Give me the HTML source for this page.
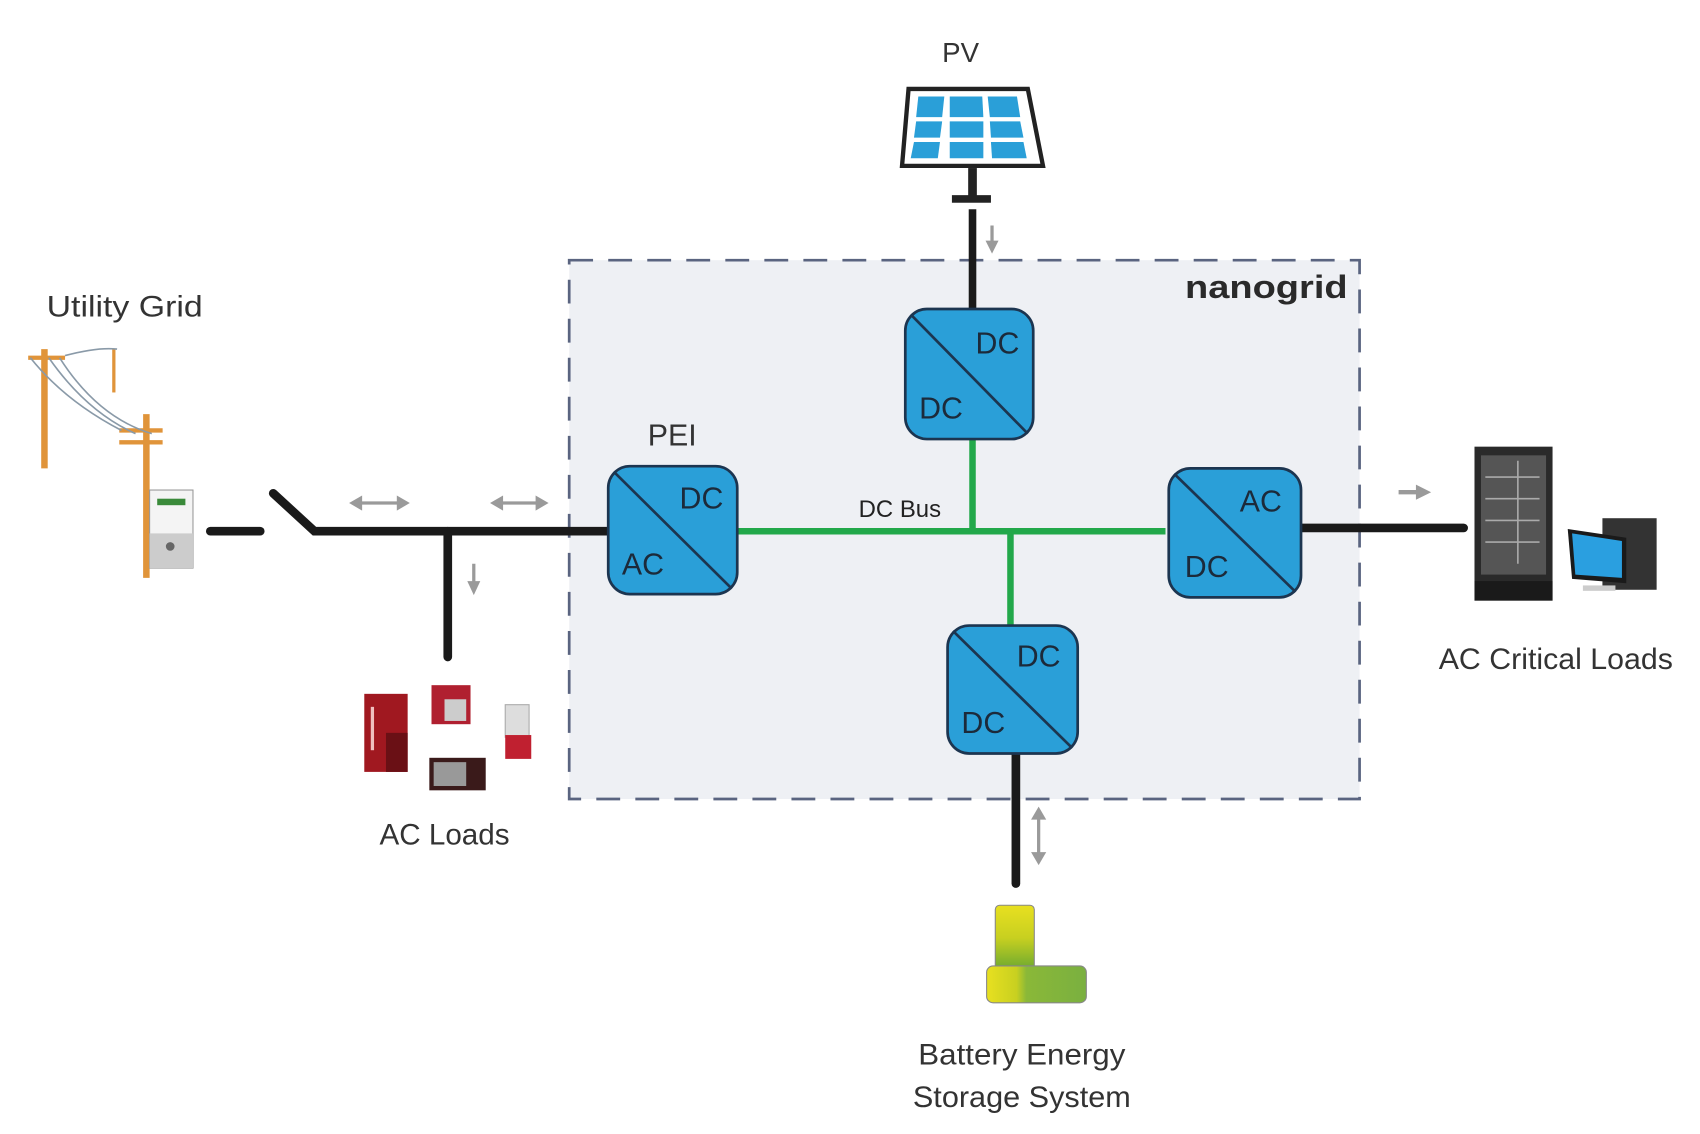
<!DOCTYPE html>
<html><head><meta charset="utf-8"><style>html,body{margin:0;padding:0;background:#fff}svg{display:block}</style></head>
<body>
<svg width="1700" height="1134" viewBox="0 0 1568 1046" preserveAspectRatio="none" xmlns="http://www.w3.org/2000/svg" font-family="'Liberation Sans',sans-serif">
<defs>
<linearGradient id="bat" x1="0" x2="0" y1="0" y2="1"><stop offset="0" stop-color="#e8e020"/><stop offset="0.5" stop-color="#c8d020"/><stop offset="1" stop-color="#6aa830"/></linearGradient>
<linearGradient id="bat2" x1="0" x2="1" y1="0" y2="0"><stop offset="0" stop-color="#e8e020"/><stop offset="0.3" stop-color="#c8d020"/><stop offset="0.4" stop-color="#8ab838"/><stop offset="1" stop-color="#7ab040"/></linearGradient>
</defs>
<rect width="1568" height="1046" fill="#fff"/>
<rect x="525" y="240" width="729" height="497" fill="#eef0f4" stroke="#5a6480" stroke-width="2.5" stroke-dasharray="22,14"/>
<text x="1093" y="275" font-size="30" font-weight="bold" fill="#2a2a2a" textLength="150" lengthAdjust="spacingAndGlyphs">nanogrid</text>
<text x="869" y="57" font-size="26" fill="#333" textLength="34" lengthAdjust="spacingAndGlyphs">PV</text>
<polygon points="838,82 948,82 962,153 832,153" fill="#fff" stroke="#222" stroke-width="4"/>
<g fill="#2a9fd8">
<polygon points="847,89 871,89 869,108 845,108"/><polygon points="876,89 906,89 907,108 876,108"/><polygon points="911,89 938,89 941,108 913,108"/>
<polygon points="845,112 869,112 867,127 843,127"/><polygon points="876,112 907,112 907,127 876,127"/><polygon points="913,112 941,112 944,127 914,127"/>
<polygon points="843,131 867,131 865,146 840,146"/><polygon points="876,131 907,131 907,146 876,146"/><polygon points="914,131 944,131 947,146 915,146"/>
</g>
<rect x="893" y="155" width="8" height="26" fill="#222"/>
<rect x="878" y="180" width="36" height="7" fill="#222"/>
<line x1="897" y1="193" x2="897" y2="290" stroke="#1a1a1a" stroke-width="7"/>
<g fill="#9a9a9a" stroke="#9a9a9a">
<line x1="915" y1="208" x2="915" y2="226" stroke-width="3"/><polygon points="909,222 921,222 915,234" stroke="none"/>
<line x1="330" y1="464" x2="370" y2="464" stroke-width="3"/><polygon points="322,464 334,457 334,471" stroke="none"/><polygon points="378,464 366,457 366,471" stroke="none"/>
<line x1="460" y1="464" x2="498" y2="464" stroke-width="3"/><polygon points="452,464 464,457 464,471" stroke="none"/><polygon points="506,464 494,457 494,471" stroke="none"/>
<line x1="437" y1="520" x2="437" y2="540" stroke-width="3"/><polygon points="431,536 443,536 437,549" stroke="none"/>
<line x1="1290" y1="454" x2="1310" y2="454" stroke-width="4"/><polygon points="1306,447 1320,454 1306,461" stroke="none"/>
<line x1="958" y1="752" x2="958" y2="790" stroke-width="3"/><polygon points="951,756 965,756 958,744" stroke="none"/><polygon points="951,786 965,786 958,798" stroke="none"/>
</g>
<g stroke="#1a1a1a" stroke-width="8" stroke-linecap="round" fill="none">
<line x1="194" y1="490" x2="240" y2="490"/>
<polyline points="252,455 290,490 561,490"/>
<line x1="413" y1="490" x2="413" y2="606"/>
<line x1="1200" y1="487" x2="1350" y2="487"/>
<line x1="937" y1="695" x2="937" y2="815"/>
</g>
<g stroke="#22a84a" stroke-width="6" fill="none">
<line x1="680" y1="490" x2="1075" y2="490"/>
<line x1="897" y1="405" x2="897" y2="490"/>
<line x1="932" y1="490" x2="932" y2="577"/>
</g>
<text x="792" y="477" font-size="22" fill="#222" textLength="76" lengthAdjust="spacingAndGlyphs">DC Bus</text>
<g stroke="#1c3550" stroke-width="2.5">
<rect x="835" y="285" width="118" height="120" rx="20" fill="#2a9fd8"/><line x1="840" y1="290" x2="948" y2="400"/>
<rect x="561" y="430" width="119" height="118" rx="20" fill="#2a9fd8"/><line x1="566" y1="435" x2="675" y2="543"/>
<rect x="1078" y="432" width="122" height="119" rx="20" fill="#2a9fd8"/><line x1="1083" y1="437" x2="1195" y2="546"/>
<rect x="874" y="577" width="120" height="118" rx="20" fill="#2a9fd8"/><line x1="879" y1="582" x2="989" y2="690"/>
</g>
<g font-size="28" fill="#1c2a3a" text-anchor="middle">
<text x="920" y="326">DC</text><text x="868" y="386">DC</text>
<text x="647" y="469">DC</text><text x="593" y="530">AC</text>
<text x="1163" y="472">AC</text><text x="1113" y="532">DC</text>
<text x="958" y="615">DC</text><text x="907" y="676">DC</text>
<text x="620" y="411" fill="#333">PEI</text>
</g>
<g font-size="27" fill="#333" lengthAdjust="spacingAndGlyphs">
<text x="43" y="292" textLength="144" lengthAdjust="spacingAndGlyphs">Utility Grid</text>
<text x="350" y="779" textLength="120" lengthAdjust="spacingAndGlyphs">AC Loads</text>
<text x="1327" y="617" textLength="216" lengthAdjust="spacingAndGlyphs">AC Critical Loads</text>
<text x="847" y="982" textLength="191" lengthAdjust="spacingAndGlyphs">Battery Energy</text>
<text x="842" y="1021" textLength="201" lengthAdjust="spacingAndGlyphs">Storage System</text>
</g>
<g stroke="#e0943a" stroke-width="6">
<line x1="41" y1="322" x2="41" y2="432"/><line x1="135" y1="382" x2="135" y2="533"/>
<line x1="105" y1="322" x2="105" y2="362" stroke-width="3"/>
</g>
<g stroke="#e0943a" stroke-width="4"><line x1="26" y1="330" x2="60" y2="330"/><line x1="110" y1="397" x2="150" y2="397"/><line x1="110" y1="408" x2="150" y2="408"/></g>
<g stroke="#8a9aa8" stroke-width="1.5" fill="none">
<path d="M28,330 Q60,370 112,397"/><path d="M45,330 Q80,380 125,400"/><path d="M55,330 Q90,385 140,400"/><path d="M60,328 Q90,320 108,322"/>
</g>
<rect x="138" y="452" width="40" height="72" fill="#f4f4f4" stroke="#999"/>
<rect x="138" y="492" width="40" height="32" fill="#ccc"/>
<rect x="145" y="460" width="26" height="6" fill="#3a8a3a"/>
<circle cx="157" cy="504" r="4" fill="#666"/>
<rect x="336" y="640" width="40" height="72" fill="#a01820"/><rect x="356" y="676" width="20" height="36" fill="#6a1015"/>
<rect x="342" y="652" width="3" height="40" fill="#f0c0c0"/>
<rect x="398" y="632" width="36" height="36" fill="#b02030"/><rect x="410" y="645" width="20" height="20" fill="#ccc"/>
<rect x="396" y="699" width="52" height="30" fill="#3a1a1a"/><rect x="400" y="703" width="30" height="22" fill="#999"/>
<rect x="466" y="650" width="22" height="30" fill="#ddd" stroke="#aaa"/><rect x="466" y="678" width="24" height="22" fill="#c02030"/>
<rect x="1360" y="412" width="72" height="142" fill="#2a2a2a"/>
<rect x="1366" y="420" width="60" height="110" fill="#555"/>
<g stroke="#aaa" stroke-width="1.5"><line x1="1370" y1="440" x2="1420" y2="440"/><line x1="1370" y1="460" x2="1420" y2="460"/><line x1="1370" y1="480" x2="1420" y2="480"/><line x1="1370" y1="500" x2="1420" y2="500"/><line x1="1400" y1="425" x2="1400" y2="520"/></g>
<rect x="1360" y="536" width="72" height="18" fill="#1a1a1a"/>
<rect x="1478" y="478" width="50" height="66" fill="#333"/>
<polygon points="1446,488 1500,496 1500,538 1450,534" fill="#1a1a1a"/>
<polygon points="1450,492 1496,499 1496,533 1453,530" fill="#2a9fe0"/>
<rect x="1460" y="540" width="30" height="5" fill="#ccc"/>
<rect x="918" y="835" width="36" height="60" rx="4" fill="url(#bat)" stroke="#888" stroke-width="1"/>
<rect x="910" y="891" width="92" height="34" rx="6" fill="url(#bat2)" stroke="#888" stroke-width="1"/>
</svg>
</body></html>
